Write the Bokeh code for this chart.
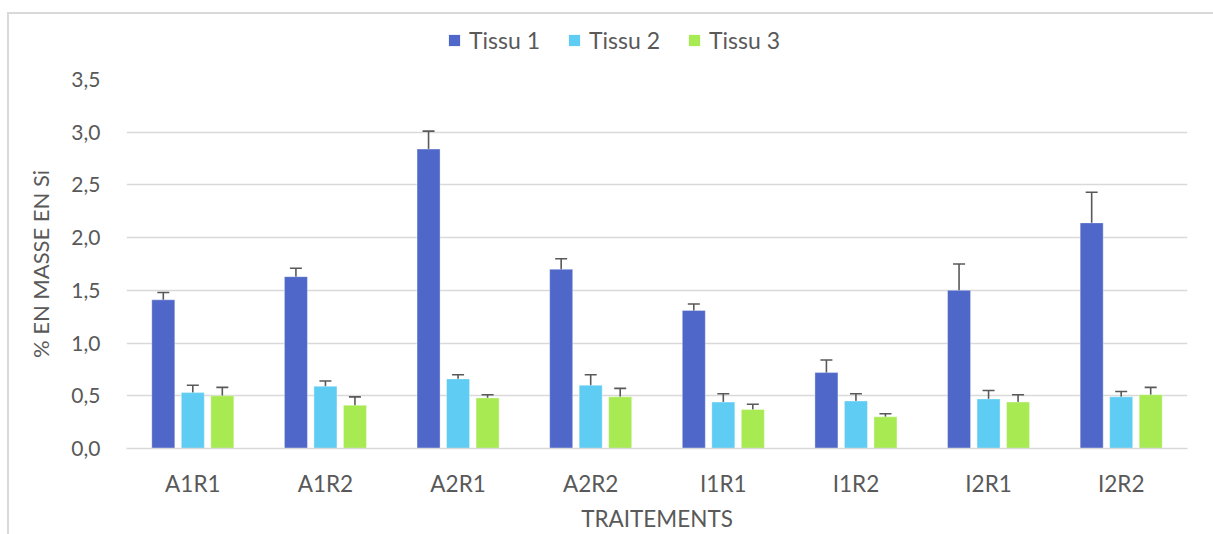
from bokeh.plotting import figure
from bokeh.models import (ColumnDataSource, FactorRange, Range1d, FixedTicker,
                          CustomJSTickFormatter, Whisker, TeeHead, Legend, LegendItem,
                          Div, Spacer)
from bokeh.layouts import row, column
from bokeh.transform import dodge
from bokeh.embed import file_html
from bokeh.resources import INLINE

categories = ["A1R1", "A1R2", "A2R1", "A2R2", "I1R1", "I1R2", "I2R1", "I2R2"]
series_names = ["Tissu 1", "Tissu 2", "Tissu 3"]
tissu1 = [1.41, 1.63, 2.84, 1.70, 1.31, 0.72, 1.50, 2.14]
err1 = [0.07, 0.08, 0.17, 0.10, 0.06, 0.12, 0.25, 0.29]
tissu2 = [0.53, 0.59, 0.66, 0.60, 0.44, 0.45, 0.47, 0.49]
err2 = [0.07, 0.05, 0.04, 0.10, 0.08, 0.07, 0.08, 0.05]
tissu3 = [0.50, 0.41, 0.48, 0.49, 0.37, 0.30, 0.44, 0.51]
err3 = [0.08, 0.08, 0.03, 0.08, 0.05, 0.03, 0.07, 0.07]
y_ticks = [0.0, 0.5, 1.0, 1.5, 2.0, 2.5, 3.0, 3.5]
x_title = "TRAITEMENTS"
y_title = "% EN MASSE EN Si"

colors = ["#4E67C8", "#5ECCF3", "#A7EA52"]
text_color = "#595959"
grid_color = "#D9D9D9"
FONT = "Lato"

TOTAL_H = 534
TOP_GAP = 12
LINE_W = 2
LEFT_GAP = 7
LEG_H = 45
MAIN_W = 1196
FRAME_L, FRAME_R, FRAME_T, FRAME_B = 126, 1187, 79, 448
LEG_CY = 41
X0 = LEFT_GAP + LINE_W            # page x of the figures
Y0 = TOP_GAP + LINE_W             # page y of the legend figure

data = dict(cats=categories)
for i, (vals, errs) in enumerate([(tissu1, err1), (tissu2, err2), (tissu3, err3)]):
    data[f"t{i}"] = vals
    data[f"u{i}"] = [v + e for v, e in zip(vals, errs)]
    data[f"l{i}"] = [v - e for v, e in zip(vals, errs)]
src = ColumnDataSource(data)

# ---- main chart
main_h = TOTAL_H - Y0 - LEG_H
p = figure(width=MAIN_W, height=main_h, output_backend="svg", toolbar_location=None,
           x_range=FactorRange(*categories, range_padding=0),
           y_range=Range1d(0, 3.5),
           min_border_left=FRAME_L - X0, min_border_right=X0 + MAIN_W - FRAME_R,
           min_border_top=FRAME_T - (Y0 + LEG_H), min_border_bottom=TOTAL_H - FRAME_B)
p.outline_line_color = None
p.background_fill_color = "white"
p.border_fill_color = "white"

offsets = [-0.2225, 0.0, 0.2225]
bars = []
for i in range(3):
    bars.append(p.vbar(x=dodge("cats", offsets[i], range=p.x_range), top=f"t{i}",
                       width=0.1735, source=src, fill_color=colors[i],
                       line_color="white", line_alpha=0.35, line_width=1))
for i in range(3):
    w = Whisker(base=dodge("cats", offsets[i], range=p.x_range), upper=f"u{i}",
                lower=f"l{i}", source=src, line_color="#595959", line_width=1.6,
                upper_head=TeeHead(size=12, line_color="#595959", line_width=1.6),
                lower_head=TeeHead(size=12, line_color="#595959", line_width=1.6))
    p.add_layout(w)

p.xgrid.grid_line_color = None
p.ygrid.grid_line_color = grid_color
p.ygrid.grid_line_width = 1.5
p.ygrid.ticker = FixedTicker(ticks=y_ticks)

p.yaxis.ticker = FixedTicker(ticks=y_ticks)
p.yaxis.formatter = CustomJSTickFormatter(code="return tick.toFixed(1).replace('.', ',');")
p.yaxis.axis_line_color = None
p.yaxis.major_tick_line_color = None
p.yaxis.minor_tick_line_color = None
p.yaxis.major_tick_out = 0
p.yaxis.major_tick_in = 0
p.yaxis.major_label_standoff = 26
p.yaxis.major_label_text_font = FONT
p.yaxis.major_label_text_font_size = "21px"
p.yaxis.major_label_text_color = text_color
p.yaxis.axis_label = y_title
p.yaxis.axis_label_text_font = FONT
p.yaxis.axis_label_text_font_size = "22px"
p.yaxis.axis_label_text_font_style = "normal"
p.yaxis.axis_label_text_color = text_color
p.yaxis.axis_label_standoff = 14

p.xaxis.axis_line_color = grid_color
p.xaxis.axis_line_width = 1.5
p.xaxis.major_tick_line_color = None
p.xaxis.minor_tick_line_color = None
p.xaxis.major_tick_out = 0
p.xaxis.major_tick_in = 0
p.xaxis.major_label_standoff = 21
p.xaxis.major_label_text_font = FONT
p.xaxis.major_label_text_font_size = "22.5px"
p.xaxis.major_label_text_color = text_color
p.xaxis.axis_label = x_title
p.xaxis.axis_label_text_font = FONT
p.xaxis.axis_label_text_font_size = "22.5px"
p.xaxis.axis_label_text_font_style = "normal"
p.xaxis.axis_label_text_color = text_color
p.xaxis.axis_label_standoff = 5

# ---- legend strip (its frame gets aligned with the main frame by the column)
leg = figure(width=MAIN_W, height=LEG_H, output_backend="svg", toolbar_location=None,
             x_axis_location=None, y_axis_location=None,
             x_range=Range1d(-10, -9), y_range=Range1d(-10, -9),
             min_border_left=0, min_border_right=0, min_border_top=0, min_border_bottom=0)
leg.grid.visible = False
leg.outline_line_color = None
leg.background_fill_color = "white"
leg.border_fill_color = "white"
keys = []
for i in range(3):
    keys.append(leg.vbar(x=f"t{i}", top=f"t{i}", width=0.1, source=src,
                         fill_color=colors[i], line_color=None, visible=False))
legend = Legend(items=[LegendItem(label=series_names[i], renderers=[keys[i]]) for i in range(3)],
                orientation="horizontal",
                location=(447 - FRAME_L, (Y0 + LEG_H) - LEG_CY - 13),
                glyph_width=14, glyph_height=14, label_standoff=8, spacing=27,
                padding=0, margin=0, border_line_color=None, background_fill_alpha=0,
                inactive_fill_alpha=0,
                label_text_font=FONT, label_text_font_size="23px",
                label_text_color=text_color)
leg.add_layout(legend, "center")

# ---- chart border (top and left edges)
top_line = Div(text="", width=1213 - LEFT_GAP, height=LINE_W, margin=0,
               styles={"background-color": grid_color})
left_line = Div(text="", width=LINE_W, height=TOTAL_H - Y0, margin=0,
                styles={"background-color": grid_color})

layout = column(
    Spacer(width=10, height=TOP_GAP, margin=0),
    row(Spacer(width=LEFT_GAP, height=LINE_W, margin=0), top_line, spacing=0),
    row(Spacer(width=LEFT_GAP, height=10, margin=0), left_line,
        column(leg, p, spacing=0), spacing=0),
    spacing=0,
)
open("out.html", "w").write(file_html(layout, INLINE))
